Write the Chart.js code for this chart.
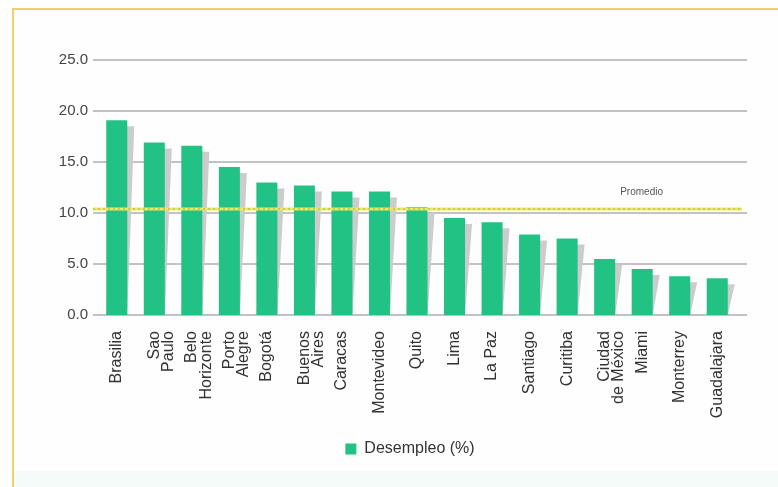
<!DOCTYPE html>
<html>
<head>
<meta charset="utf-8">
<script src="https://cdn.jsdelivr.net/npm/chart.js@4.4.1/dist/chart.umd.min.js"></script>
<style>
  body { margin: 0; background: #ffffff; }
  #marco {
    position: absolute; left: 12px; top: 8px; width: 766px; height: 479px;
    border-left: 2px solid #ecd06a; border-top: 2px solid #ecd06a;
    background: #fefefe; box-sizing: border-box;
  }
  #franja { position: absolute; left: 14px; top: 471px; width: 764px; height: 16px; background: #f5fbf9; }
  #grafica { position: absolute; left: 0; top: 0; }
</style>
</head>
<body>
<div id="marco"></div>
<div id="franja"></div>
<canvas id="grafica" width="778" height="487"></canvas>
<script>
const ciudades = [
    'Brasilia', ['Sao', 'Paulo'], ['Belo', 'Horizonte'], ['Porto', 'Alegre'], 'Bogotá',
    ['Buenos', 'Aires'], 'Caracas', 'Montevideo', 'Quito', 'Lima', 'La Paz', 'Santiago',
    'Curitiba', ['Ciudad', 'de México'], 'Miami', 'Monterrey', 'Guadalajara'
];
const desempleo = [19.1, 16.9, 16.6, 14.5, 13.0, 12.7, 12.1, 12.1, 10.6, 9.5, 9.1, 7.9, 7.5, 5.5, 4.5, 3.8, 3.6];
const promedio = 10.4;
const marcasY = [0, 5, 10, 15, 20, 25];

const verde = '#22c184';
const fuente = '"Liberation Sans", Arial, sans-serif';

// Lineas horizontales de la grilla, algo mas anchas que el area del grafico
const grilla = {
    id: 'grilla',
    beforeDatasetsDraw(chart) {
        const { ctx, chartArea, scales } = chart;
        ctx.save();
        ctx.strokeStyle = '#c2c2c2';
        ctx.lineWidth = 2;
        marcasY.forEach(v => {
            const y = Math.round(scales.y.getPixelForValue(v));
            ctx.beginPath();
            ctx.moveTo(chartArea.left - 5, y);
            ctx.lineTo(chartArea.right + 11, y);
            ctx.stroke();
        });
        ctx.restore();
    }
};

// Sombra gris detras de cada barra
const sombras = {
    id: 'sombras',
    beforeDatasetsDraw(chart) {
        const { ctx } = chart;
        const meta = chart.getDatasetMeta(0);
        ctx.save();
        ctx.fillStyle = '#cccccc';
        meta.data.forEach(bar => {
            const w = bar.width / 2;
            ctx.beginPath();
            ctx.moveTo(bar.x - w + 7, bar.y + 6);
            ctx.lineTo(bar.x + w + 7, bar.y + 6);
            ctx.lineTo(bar.x + w, bar.base);
            ctx.lineTo(bar.x - w, bar.base);
            ctx.closePath();
            ctx.fill();
        });
        ctx.restore();
    }
};

// Linea del promedio
const lineaPromedio = {
    id: 'lineaPromedio',
    afterDatasetsDraw(chart) {
        const { ctx, chartArea, scales } = chart;
        const y = scales.y.getPixelForValue(promedio);
        ctx.save();
        ctx.strokeStyle = '#f3e65a';
        ctx.lineWidth = 3;
        ctx.beginPath();
        ctx.moveTo(chartArea.left - 5, y);
        ctx.lineTo(chartArea.right + 6, y);
        ctx.stroke();
        ctx.strokeStyle = '#a8cf4e';
        ctx.lineWidth = 1.5;
        ctx.setLineDash([2, 3]);
        ctx.beginPath();
        ctx.moveTo(chartArea.left - 5, y);
        ctx.lineTo(chartArea.right + 6, y);
        ctx.stroke();
        ctx.setLineDash([]);
        ctx.fillStyle = '#555555';
        ctx.font = '10px ' + fuente;
        ctx.textAlign = 'right';
        ctx.textBaseline = 'middle';
        ctx.fillText('Promedio', chartArea.right - 73, y - 17);
        ctx.restore();
    }
};

// La leyenda va un poco corrida a la derecha
const moverLeyenda = {
    id: 'moverLeyenda',
    afterLayout(chart) {
        chart.legend.left += 84;
    }
};

new Chart(document.getElementById('grafica'), {
    type: 'bar',
    data: {
        labels: ciudades,
        datasets: [{
            label: 'Desempleo (%)',
            data: desempleo,
            backgroundColor: verde,
            borderWidth: 0,
            barPercentage: 0.56,
            categoryPercentage: 1
        }]
    },
    options: {
        responsive: false,
        animation: false,
        devicePixelRatio: 1,
        layout: { padding: { top: 60, left: 0, right: 42, bottom: 20 } },
        plugins: {
            tooltip: { enabled: false },
            legend: {
                position: 'bottom',
                labels: {
                    boxWidth: 11,
                    boxHeight: 11,
                    padding: 10,
                    color: '#333333',
                    font: { family: fuente, size: 16 }
                }
            }
        },
        scales: {
            x: {
                grid: { display: false, drawTicks: false },
                border: { display: false },
                afterFit: s => { s.height = 116; },
                ticks: {
                    minRotation: 90,
                    maxRotation: 90,
                    autoSkip: false,
                    padding: 16,
                    color: '#333333',
                    font: { family: fuente, size: 16, lineHeight: 0.9 }
                }
            },
            y: {
                min: 0,
                max: 25,
                grid: { display: false, drawTicks: false },
                border: { display: false },
                afterFit: s => { s.width = 98; },
                afterBuildTicks: s => { s.ticks = marcasY.map(v => ({ value: v })); },
                ticks: {
                    padding: 10,
                    color: '#444444',
                    font: { family: fuente, size: 15 },
                    callback: v => v.toFixed(1)
                }
            }
        }
    },
    plugins: [grilla, sombras, lineaPromedio, moverLeyenda]
});
</script>
</body>
</html>
